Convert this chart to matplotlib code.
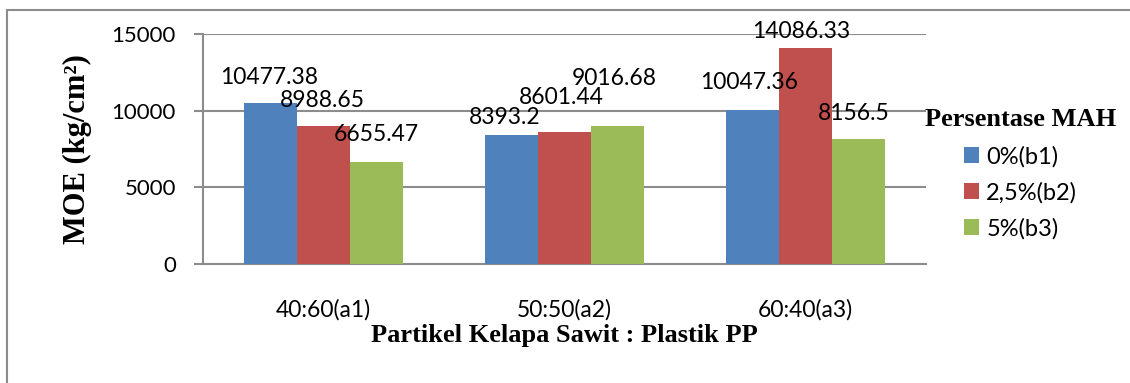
import matplotlib.pyplot as plt
import numpy as np
from matplotlib.patches import Rectangle

categories = ['40:60(a1)', '50:50(a2)', '60:40(a3)']
series_names = ['0%(b1)', '2,5%(b2)', '5%(b3)']
b1 = [10477.38, 8393.2, 10047.36]
b2 = [8988.65, 8601.44, 14086.33]
b3 = [6655.47, 9016.68, 8156.5]
label_b1 = ['10477.38', '8393.2', '10047.36']
label_b2 = ['8988.65', '8601.44', '14086.33']
label_b3 = ['6655.47', '9016.68', '8156.5']

# label nudges (pixels, dx / dy above bar top) so the numbers don't collide
nudge_b1 = [(-1, 26), (-7, 18), (-3, 27)]
nudge_b2 = [(-1, 26), (-3, 35), (-4, 17)]
nudge_b3 = [(0, 27), (-3, 47), (-5, 25)]

colors = ['#4F81BD', '#C0504D', '#9BBB59']
grid_col = '#8c8c8c'
sans = 'Lato'
serif = 'Liberation Serif'
px = 0.72  # points per pixel at dpi 100

fig = plt.figure(figsize=(11.3, 3.83), dpi=100)
ax = fig.add_axes([203 / 1130, 1 - 264 / 383, 723 / 1130, 230 / 383])

# outer chart frame (runs off the right and bottom edge)
fig.patches.append(Rectangle((7 / 1130, -0.1), 1.2, 1 - 10 / 383 + 0.1,
                             transform=fig.transFigure, fill=False,
                             edgecolor=grid_col, linewidth=1.5))

x = np.arange(len(categories))
w = 0.22
groups = [(b1, label_b1, nudge_b1), (b2, label_b2, nudge_b2), (b3, label_b3, nudge_b3)]
for i, (vals, labs, nudges) in enumerate(groups):
    xs = x + (i - 1) * w
    ax.bar(xs, vals, width=w, color=colors[i], label=series_names[i], zorder=3)
    for xi, v, t, (dx, dy) in zip(xs, vals, labs, nudges):
        ax.annotate(t, (xi, v), xytext=(dx * px, dy * px), textcoords='offset points',
                    ha='center', va='center', fontsize=16.5, family=sans, zorder=4)

ax.set_xlim(-0.5, 2.5)
ax.set_ylim(0, 15000)
ax.set_yticks([0, 5000, 10000, 15000])
ax.set_xticks(x)
ax.set_xticklabels(categories, fontsize=16.5, family=sans)
ax.tick_params(axis='x', length=0, pad=25)
ax.tick_params(axis='y', length=6.5, width=1.5, color=grid_col, labelsize=16, pad=13)
for lbl in ax.get_yticklabels():
    lbl.set_family(sans)
ax.yaxis.grid(True, color=grid_col, linewidth=1.5, zorder=0)
for s in ['top', 'right']:
    ax.spines[s].set_visible(False)
for s in ['left', 'bottom']:
    ax.spines[s].set_color(grid_col)
    ax.spines[s].set_linewidth(1.5)

ax.set_ylabel('MOE (kg/cm²)', fontsize=22, fontweight='bold',
              family=serif, labelpad=14)
ax.set_xlabel('Partikel Kelapa Sawit : Plastik PP', fontsize=19,
              fontweight='bold', family=serif, labelpad=3)

leg = ax.legend(loc='upper left', bbox_to_anchor=(925 / 1130, 1 - 108 / 383),
                bbox_transform=fig.transFigure, frameon=False,
                title='Persentase MAH', prop={'family': sans, 'size': 17},
                handlelength=0.64, handleheight=0.64, handletextpad=0.3,
                labelspacing=0.62, borderpad=0, borderaxespad=0)
leg.get_title().set_fontproperties({'family': serif, 'weight': 'bold', 'size': 19})

fig.savefig('out.png', dpi=100)
